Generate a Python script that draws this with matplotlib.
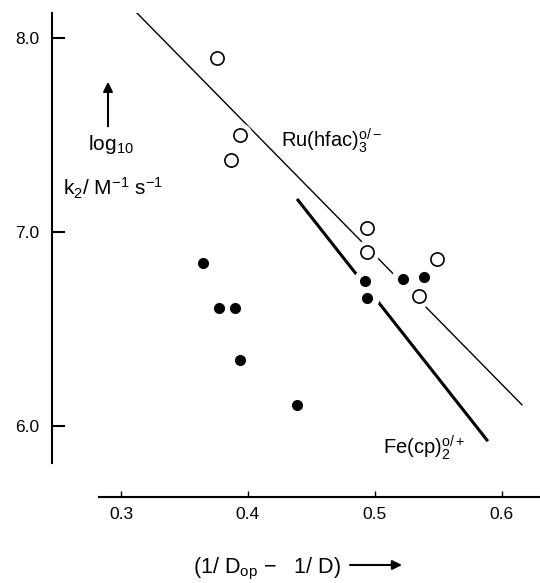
import matplotlib
matplotlib.use("Agg")
import numpy as np
import matplotlib.pyplot as plt

plt.rcParams['font.family'] = ['Liberation Sans', 'DejaVu Sans']
plt.rcParams['mathtext.fontset'] = 'custom'
plt.rcParams['mathtext.rm'] = 'Liberation Sans'
plt.rcParams['mathtext.it'] = 'Liberation Sans:italic'
plt.rcParams['mathtext.bf'] = 'Liberation Sans:bold'

# Ru(hfac)3 0/- (open circles)
ru_x = [0.376, 0.394, 0.387, 0.494, 0.494, 0.549, 0.535]
ru_y = [7.90, 7.50, 7.37, 7.02, 6.90, 6.86, 6.67]
# Fe(cp)2 0/+ (filled circles)
fe_x = [0.365, 0.377, 0.390, 0.394, 0.439, 0.492, 0.494, 0.522, 0.539]
fe_y = [6.84, 6.61, 6.61, 6.34, 6.11, 6.75, 6.66, 6.76, 6.77]

# drawn correlation lines (end points)
ru_line_x = [0.3126, 0.6157]
ru_line_y = [8.13, 6.11]
fe_line_x = [0.4394, 0.5882]
fe_line_y = [7.165, 5.928]

xticks = [0.3, 0.4, 0.5, 0.6]
yticks = [6.0, 7.0, 8.0]
ytick_labels = ['6.0', '7.0', '8.0']

fig = plt.figure(figsize=(5.4, 5.83), dpi=100)
ax = fig.add_axes([52 / 540, 1 - 497 / 583, 488 / 540, 484 / 583])
ax.set_xlim(0.2457, 0.63)
ax.set_ylim(5.634, 8.13)

ax.plot(ru_line_x, ru_line_y, color='black', lw=1.0, zorder=1)
ax.plot(fe_line_x, fe_line_y, color='black', lw=2.2, zorder=1)

# white gaps where the lines pass behind the points
ax.scatter(ru_x + fe_x, ru_y + fe_y, s=300, color='white', lw=0, zorder=2)

ax.scatter(ru_x, ru_y, s=90, facecolor='white', edgecolor='black', lw=1.2, zorder=3)
ax.scatter(fe_x, fe_y, s=64, color='black', lw=0, zorder=3)

ax.spines['top'].set_visible(False)
ax.spines['right'].set_visible(False)
ax.spines['left'].set_bounds(5.81, 8.13)
ax.spines['bottom'].set_bounds(0.283, 0.63)
ax.spines['left'].set_linewidth(1.5)
ax.spines['bottom'].set_linewidth(1.5)

ax.set_xticks(xticks)
ax.set_xticklabels([str(v) for v in xticks])
ax.set_yticks(yticks)
ax.set_yticklabels(ytick_labels)
ax.tick_params(axis='y', direction='in', length=9, width=1.5, pad=9, labelsize=12.5)
ax.tick_params(axis='x', direction='in', length=4, width=1.0, pad=7, labelsize=12.5)

ax.text(0.426, 7.438, r'Ru(hfac)$_3^{\mathrm{o/-}}$', fontsize=14.5)
ax.text(0.5063, 5.856, r'Fe(cp)$_2^{\mathrm{o/+}}$', fontsize=14.5)
ax.text(0.274, 7.423, r'log$_{10}$', fontsize=15)
ax.text(0.2543, 7.19, r'k$_2$/ M$^{-1}$ s$^{-1}$', fontsize=15)
ax.annotate('', xy=(0.2898, 7.775), xytext=(0.2898, 7.546),
            arrowprops=dict(arrowstyle='-|>', color='black', lw=1.5,
                            mutation_scale=14, shrinkA=0, shrinkB=0))

fig.text(193 / 540, 1 - 573 / 583, r'(1/ D$_{\mathrm{op}}$ −   1/ D)', fontsize=15.5)
fig.add_artist(matplotlib.patches.FancyArrowPatch(
    (350 / 540, 1 - 565 / 583), (402 / 540, 1 - 565 / 583),
    transform=fig.transFigure, arrowstyle='-|>', color='black', lw=1.5,
    mutation_scale=14, shrinkA=0, shrinkB=0))

fig.savefig('out.png', dpi=100)
